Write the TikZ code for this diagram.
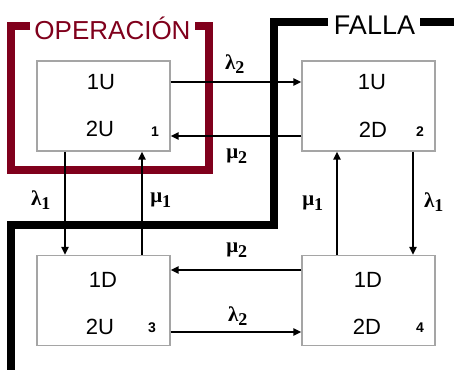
\documentclass[tikz,border=0pt]{standalone}
\usepackage{fontspec}
\setmainfont{Liberation Sans}
\newfontfamily\grk{Liberation Serif}
\usetikzlibrary{arrows.meta,calc}
\definecolor{opred}{RGB}{128,0,28}
\definecolor{boxgray}{RGB}{165,165,165}
\tikzset{
  statebox/.style={draw=boxgray,line width=1.2pt,fill=white,minimum width=133pt,minimum height=90pt,inner sep=0pt},
  st/.style={inner sep=0pt,anchor=base,font=\fontsize{22}{22}\selectfont},
  num/.style={inner sep=0pt,anchor=base,font=\fontsize{14}{14}\selectfont\bfseries},
  arr/.style={line width=2pt,-{Triangle[length=8pt,width=7pt]}},
  rate/.style={inner sep=0pt,font=\fontsize{21}{21}\selectfont\grk\bfseries},
  frame/.style={line width=8pt,line join=miter,line cap=butt},
}
\newcommand{\sbx}[1]{\textsubscript{\fontsize{18}{18}\selectfont #1}}
\begin{document}
\begin{tikzpicture}[x=1pt,y=-1pt]
\clip (0,0) rectangle (454,369);
\fill[white] (0,0) rectangle (454,369);
% frames
\draw[frame,opred,line width=7.5pt] (30,26) -- (11,26) -- (11,170) -- (209,170) -- (209,26) -- (195,26);
\node[inner sep=0pt,anchor=base,text=opred,font=\fontsize{26}{26}\selectfont] (op) at (112.5,39) {OPERACIÓN};
\draw[frame] (328,22) -- (274,22) -- (274,225) -- (11,225) -- (11,380);
\draw[frame] (420,22) -- (470,22);
\node[inner sep=0pt,anchor=base,text=black,font=\fontsize{27}{27}\selectfont] (fa) at (374.5,34.5) {FALLA};
% boxes
\node[statebox] (b1) at (103.5,106) {};
\node[statebox] (b2) at (368.5,106) {};
\node[statebox] (b3) at (103.5,300.5) {};
\node[statebox] (b4) at (368.5,300.5) {};
\node[st] (t1a) at (101,89) {1U};
\node[st] (t1b) at (100,136) {2U};
\node[num] (n1) at (155,136) {1};
\node[st] (t2a) at (372,89) {1U};
\node[st] (t2b) at (373,137) {2D};
\node[num] (n2) at (420,136) {2};
\node[st] (t3a) at (103,287) {1D};
\node[st] (t3b) at (100,334) {2U};
\node[num] (n3) at (152,332) {3};
\node[st] (t4a) at (368,287) {1D};
\node[st] (t4b) at (367,334) {2D};
\node[num] (n4) at (420,332) {4};
% arrows
\draw[arr] ([yshift=24pt]b1.east) -- ([yshift=24pt]b2.west);
\draw[arr] ([yshift=-30pt]b2.west) -- ([yshift=-30pt]b1.east);
\draw[arr] ([xshift=-38.5pt]b1.south) -- ([xshift=-38.5pt]b3.north);
\draw[arr] ([xshift=38.5pt]b3.north) -- ([xshift=38.5pt]b1.south);
\draw[arr] ([xshift=-31.5pt]b4.north) -- ([xshift=-31.5pt]b2.south);
\draw[arr] ([xshift=44.5pt]b2.south) -- ([xshift=44.5pt]b4.north);
\draw[arr] ([yshift=30.5pt]b4.west) -- ([yshift=30.5pt]b3.east);
\draw[arr] ([yshift=-31.5pt]b3.east) -- ([yshift=-31.5pt]b4.west);
% rates
\node[rate] (r1) at (235,64) {λ\sbx{2}};
\node[rate] (r2) at (237,156) {μ\sbx{2}};
\node[rate] (r3) at (41,200) {λ\sbx{1}};
\node[rate] (r4) at (161,200) {μ\sbx{1}};
\node[rate] (r5) at (313,203) {μ\sbx{1}};
\node[rate] (r6) at (434,202) {λ\sbx{1}};
\node[rate] (r7) at (237,250) {μ\sbx{2}};
\node[rate] (r8) at (238,316) {λ\sbx{2}};
\end{tikzpicture}
\end{document}
